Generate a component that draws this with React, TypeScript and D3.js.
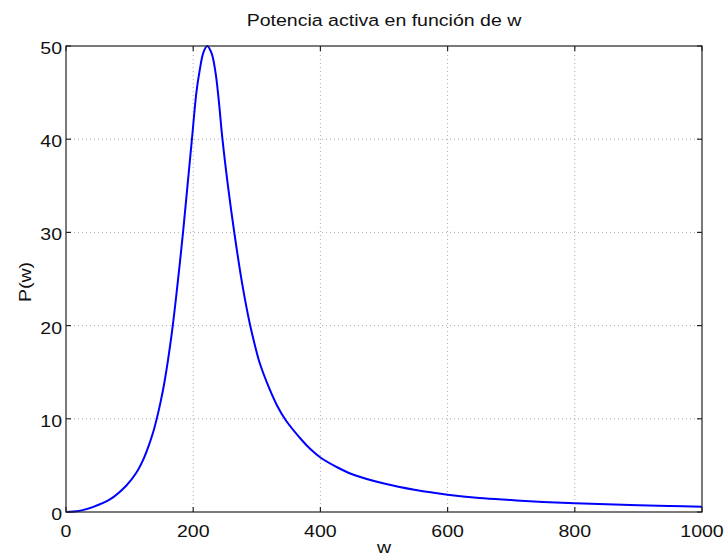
import React from 'react';
import * as d3 from 'd3';

// curve
const wValues = [0, 20, 43, 69, 95, 110, 122, 130, 137, 143, 149, 155, 166, 175, 184, 191, 198, 205, 210, 216, 222, 229, 235, 240, 246, 255, 265, 277, 289, 297, 305, 320, 332, 345, 371, 385, 400, 425, 450, 500, 550, 600, 650, 700, 750, 800, 850, 900, 950, 1000];
const pValues = [0, 0.1, 0.55, 1.35, 2.85, 4.15, 5.7, 7.1, 8.55, 10.1, 11.9, 14.0, 19.0, 24.2, 30, 35, 40, 45, 47.3, 49.3, 50, 49.2, 47.2, 44.3, 40, 34.8, 29.8, 24.5, 20.2, 17.9, 15.9, 13.2, 11.4, 9.9, 7.7, 6.7, 5.85, 4.85, 4.05, 3.05, 2.35, 1.85, 1.5, 1.28, 1.08, 0.93, 0.82, 0.72, 0.64, 0.57];
const xTicks = [0, 200, 400, 600, 800, 1000];
const yTicks = [0, 10, 20, 30, 40, 50];

const title = 'Potencia activa en función de w';
const xLabel = 'w';
const yLabel = 'P(w)';

const margin = {top: 46, right: 24, bottom: 48, left: 66};
const width = 726;
const height = 560;
const font = '"Liberation Sans", Arial, Helvetica, sans-serif';
const stretch = 1.15;

// text drawn a bit wider than the font, as in the reference
const Label = ({x, y, anchor = 'middle', rotate = 0, size = 17, children}:
  {x: number, y: number, anchor?: string, rotate?: number, size?: number, children: React.ReactNode}) => (
  <text
    transform={`translate(${x},${y}) rotate(${rotate}) scale(${stretch},1)`}
    textAnchor={anchor}
    fontSize={size}
  >{children}</text>
);

const App = () => {
  const x = d3.scaleLinear().domain([0, 1000]).range([margin.left, width - margin.right]);
  const y = d3.scaleLinear().domain([0, 50]).range([height - margin.bottom, margin.top]);

  const points = wValues.map((w, i) => [w, pValues[i]] as [number, number]);
  const line = d3.line<[number, number]>()
    .x(d => x(d[0]))
    .y(d => y(d[1]))
    .curve(d3.curveCatmullRom.alpha(0.5));

  const x0 = x(0), x1 = x(1000), y0 = y(0), y1 = y(50);
  const tick = 5;

  return (
    <svg width={width} height={height} style={{position: 'absolute', left: 0, top: 0, background: '#fff'}}>
      <rect x={0} y={0} width={width} height={height} fill="#fff" />
      {/* grid */}
      <g stroke="#aaa" strokeWidth={1} strokeDasharray="1,3">
        {xTicks.slice(1, -1).map(t => (
          <line key={'gx' + t} x1={x(t)} x2={x(t)} y1={y0} y2={y1} />
        ))}
        {yTicks.slice(1, -1).map(t => (
          <line key={'gy' + t} x1={x0} x2={x1} y1={y(t)} y2={y(t)} />
        ))}
      </g>

      {/* data */}
      <path d={line(points) || ''} fill="none" stroke="#0000ff" strokeWidth={2} />

      {/* box + ticks */}
      <g stroke="#222" strokeWidth={1.2}>
        <rect x={x0} y={y1} width={x1 - x0} height={y0 - y1} fill="none" />
        {xTicks.map(t => (
          <g key={'tx' + t}>
            <line x1={x(t)} x2={x(t)} y1={y0} y2={y0 - tick} />
            <line x1={x(t)} x2={x(t)} y1={y1} y2={y1 + tick} />
          </g>
        ))}
        {yTicks.map(t => (
          <g key={'ty' + t}>
            <line x1={x0} x2={x0 + tick} y1={y(t)} y2={y(t)} />
            <line x1={x1} x2={x1 - tick} y1={y(t)} y2={y(t)} />
          </g>
        ))}
      </g>

      <g fontFamily={font} fill="#111">
        {xTicks.map(t => (
          <Label key={'lx' + t} x={x(t)} y={y0 + 25}>{t}</Label>
        ))}
        {yTicks.map(t => (
          <Label key={'ly' + t} x={x0 - 4} y={y(t) + 8} anchor="end">{t}</Label>
        ))}
        <Label x={(x0 + x1) / 2} y={y0 + 41}>{xLabel}</Label>
        <Label x={31} y={282} rotate={-90}>{yLabel}</Label>
        <Label x={(x0 + x1) / 2} y={26}>{title}</Label>
      </g>
    </svg>
  );
};

export default App;
